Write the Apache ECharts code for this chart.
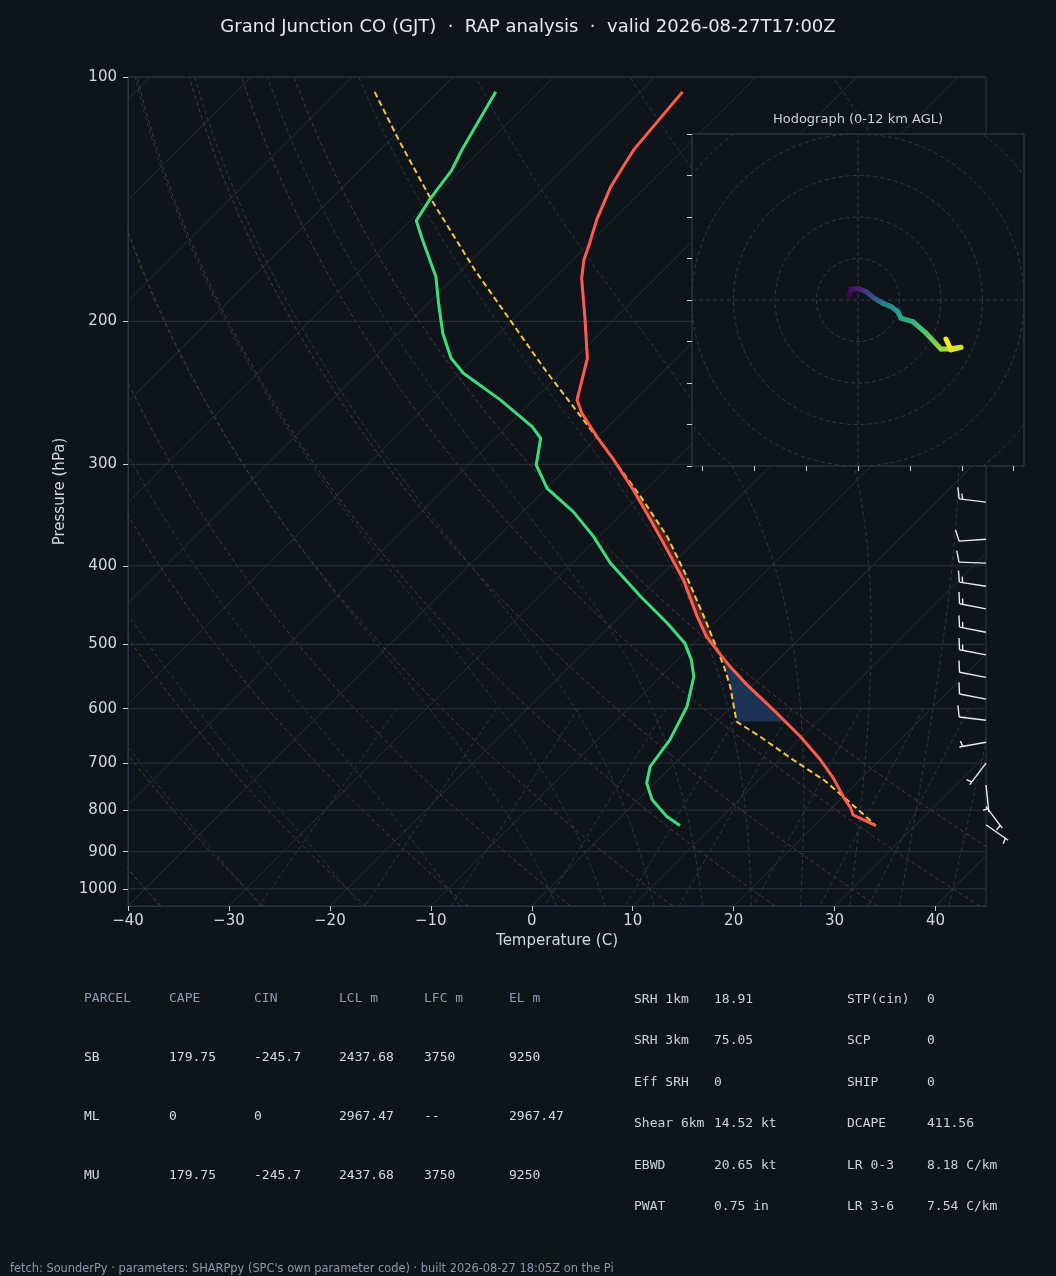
<!DOCTYPE html>
<html>
<head>
<meta charset="utf-8">
<title>GJT skew-T</title>
<script src="https://cdn.jsdelivr.net/npm/echarts@6.0.0/dist/echarts.min.js"></script>
<style>
  html, body { margin: 0; padding: 0; background: #0f141b; }
  #chart { width: 1056px; height: 1276px; }
</style>
</head>
<body>
<div id="chart"></div>
<script>
// ---- sounding (hPa, deg C) ----
var tempP = [104.3, 122.7, 127.7, 136.5, 150.0, 160.2, 168.0, 177.0, 198.3, 222.1, 249.9, 259.5, 277.3, 296.3, 322.6, 351.3, 382.4, 416.5, 462.1, 489.0, 515.0, 532.4, 560.8, 602.0, 649.3, 693.6, 730.6, 769.8, 795.6, 810.9, 835.7];
var tempC = [-65.8, -64.9, -64.4, -63.5, -61.6, -60.0, -58.9, -57.3, -53.0, -48.8, -45.7, -43.9, -40.1, -36.1, -31.2, -26.5, -21.9, -17.3, -12.3, -9.4, -6.2, -4.1, -0.6, 4.5, 9.8, 14.1, 17.2, 20.0, 21.9, 22.8, 26.1];

var dewP = [104.3, 123.0, 130.2, 141.1, 150.3, 157.3, 176.2, 190.0, 206.9, 222.1, 231.7, 249.9, 269.6, 278.6, 300.5, 321.1, 343.1, 368.3, 397.1, 436.5, 470.9, 498.2, 522.4, 547.7, 596.3, 655.4, 707.1, 741.0, 777.0, 814.7, 835.7];
var dewC = [-84.3, -81.9, -80.9, -80.2, -79.4, -77.3, -71.9, -69.0, -65.6, -62.3, -59.6, -53.3, -47.5, -45.5, -43.3, -39.9, -35.0, -30.5, -26.2, -19.9, -14.6, -10.9, -8.6, -6.7, -4.4, -2.8, -2.1, -0.8, 1.4, 4.5, 6.7];

// surface parcel trace
var parcelP = [104.3, 120.1, 141.1, 172.9, 228.9, 268.3, 296.3, 328.8, 368.3, 412.6, 470.9, 532.4, 563.5, 622.3, 649.3, 693.6, 734.1, 777.0, 835.7];
var parcelC = [-96.3, -88.9, -80.2, -68.7, -52.0, -42.2, -36.1, -29.8, -23.2, -17.3, -10.7, -4.7, -2.1, 2.0, 5.8, 11.4, 16.4, 20.7, 26.1];

// shaded areas (outline points)
var capeP = [524.8, 470.9, 412.6, 368.3, 328.8, 296.3, 322.6, 351.3, 382.4, 416.5, 462.1, 489.0, 515.0];
var capeC = [-5.2, -10.7, -17.3, -23.2, -29.8, -36.1, -31.2, -26.5, -21.9, -17.3, -12.3, -9.4, -6.2];
var cinP = [622.3, 563.5, 524.8, 532.4, 560.8, 602.0, 622.3];
var cinC = [2.0, -2.1, -5.2, -4.1, -0.6, 4.5, 6.8];

// wind barbs: pressure, speed (kt), direction (deg from)
var barbP = [334, 371, 397, 424, 452, 483, 515, 549, 584, 620, 660, 700, 745, 792, 834];
var barbSpd = [15, 10, 10, 15, 15, 15, 15, 10, 10, 10, 5, 5, 5, 5, 5];
var barbDir = [277, 266, 272, 279, 281, 281, 281, 281, 281, 277, 260, 217, 174, 143, 125];

// hodograph (kt) and height (km AGL)
var hodoU = [-1.1, -0.8, 0.0, 1.0, 2.0, 3.0, 4.0, 4.8, 5.2, 6.6, 8.2, 10.0, 11.0, 12.4, 11.2, 10.6];
var hodoV = [0.6, 1.3, 1.4, 1.0, 0.2, -0.4, -0.8, -1.4, -2.2, -2.6, -4.0, -5.9, -5.9, -5.7, -6.0, -4.7];
var hodoH = [0, 0.5, 1.0, 2.0, 3.2, 5.0, 6.0, 6.6, 7.0, 7.8, 8.8, 10.0, 10.6, 11.2, 11.6, 12.0];
var hodoRings = [5, 10, 15, 20, 25];

// axis ticks
var presTicks = [100, 200, 300, 400, 500, 600, 700, 800, 900, 1000];
var tempTicks = [-40, -30, -20, -10, 0, 10, 20, 30, 40];
var hodoXTicks = [-18.75, -12.5, -6.25, 0, 6.25, 12.5, 18.75];

// thermodynamic background
var isotherms = [-120, -110, -100, -90, -80, -70, -60, -50, -40, -30, -20, -10, 0, 10, 20, 30, 40];
var dryTheta = [-40, -30, -20, -10, 0, 10, 20, 30, 40, 50];
var moistT0 = [-40, -30, -20, -10, 0, 5, 10, 15, 20, 25, 30, 35, 40, 45];
var mixW = [0.0004, 0.001, 0.002, 0.004, 0.007, 0.01, 0.016, 0.024, 0.032];

// parameter tables
var parcelHead = ['PARCEL', 'CAPE', 'CIN', 'LCL m', 'LFC m', 'EL m'];
var parcelRows = [
  ['SB', '179.75', '-245.7', '2437.68', '3750', '9250'],
  ['ML', '0', '0', '2967.47', '--', '2967.47'],
  ['MU', '179.75', '-245.7', '2437.68', '3750', '9250']
];
var paramA = [['SRH 1km', '18.91'], ['SRH 3km', '75.05'], ['Eff SRH', '0'], ['Shear 6km', '14.52 kt'], ['EBWD', '20.65 kt'], ['PWAT', '0.75 in']];
var paramB = [['STP(cin)', '0'], ['SCP', '0'], ['SHIP', '0'], ['DCAPE', '411.56'], ['LR 0-3', '8.18 C/km'], ['LR 3-6', '7.54 C/km']];

var BG = '#0f141b';
var PBOT = 1050, PTOP = 100;
var SKEW = 80.5;   // deg C of shift per decade of pressure

function lp(p) { return Math.log10(p); }
function skx(t, p) { return t + SKEW * (lp(PBOT) - lp(p)); }
function prof(P, T) {
  var out = [];
  for (var i = 0; i < P.length; i++) out.push([skx(T[i], P[i]), lp(P[i])]);
  return out;
}

// moist adiabat integration
function satMix(p, tk) {
  var tc = tk - 273.15;
  var es = 6.112 * Math.exp(17.67 * tc / (tc + 243.5));
  return 0.622 * es / (p - es);
}
function dTdp(p, tk) {
  var rs = satMix(p, tk);
  var Rd = 287.04749, Lv = 2.50084e6, Cp = 1004.6662, eps = 0.622;
  return ((Rd * tk + Lv * rs) / (Cp + Lv * Lv * rs * eps / (Rd * tk * tk))) / p;
}
function rk4(p, t, h) {
  var k1 = dTdp(p, t);
  var k2 = dTdp(p + h / 2, t + h / 2 * k1);
  var k3 = dTdp(p + h / 2, t + h / 2 * k2);
  var k4 = dTdp(p + h, t + h * k3);
  return t + h / 6 * (k1 + 2 * k2 + 2 * k3 + k4);
}
function moistCurve(t0) {
  var tk = t0 + 273.15, p = 1000, t = tk, low = [];
  while (p < PBOT) { t = rk4(p, t, 10); p += 10; low.push([p, t]); }
  var pts = low.reverse().concat([[1000, tk]]);
  p = 1000; t = tk;
  while (p > PTOP) { t = rk4(p, t, -10); p -= 10; pts.push([p, t]); }
  return pts.map(function (d) { return [skx(d[1] - 273.15, d[0]), lp(d[0])]; });
}
function dryCurve(th) {
  var out = [];
  for (var p = PBOT; p >= PTOP; p -= 10) {
    var t = (th + 273.15) * Math.pow(p / 1000, 0.2857) - 273.15;
    out.push([skx(t, p), lp(p)]);
  }
  return out;
}
function mixCurve(w) {
  var out = [];
  for (var p = 600; p <= PBOT; p += 25) {
    var e = p * w / (0.622 + w), a = Math.log(e / 6.112);
    var td = 243.5 * a / (17.67 - a);
    out.push([skx(td, p), lp(p)]);
  }
  return out;
}

var viridis = ['#440154', '#482878', '#3e4989', '#31688e', '#26828e', '#1f9e89', '#35b779', '#6ece58', '#b5de2b', '#fde725'];
function vColor(f) {
  f = Math.max(0, Math.min(1, f));
  var s = f * (viridis.length - 1), i = Math.min(Math.floor(s), viridis.length - 2), r = s - i;
  function h(c, k) { return parseInt(c.substr(1 + 2 * k, 2), 16); }
  var a = viridis[i], b = viridis[i + 1], out = [];
  for (var k = 0; k < 3; k++) out.push(Math.round(h(a, k) + (h(b, k) - h(a, k)) * r));
  return 'rgb(' + out.join(',') + ')';
}

var series = [];
function addBg(data, color, dash) {
  series.push({
    type: 'line', xAxisIndex: 0, yAxisIndex: 0, data: data, symbol: 'none', silent: true,
    clip: true, z: 1, animation: false,
    lineStyle: { color: color, width: 1, type: dash || 'solid' }
  });
}

presTicks.forEach(function (p) { addBg([[-40, lp(p)], [45, lp(p)]], '#283039'); });
isotherms.forEach(function (t) { addBg([[skx(t, PBOT), lp(PBOT)], [skx(t, PTOP), lp(PTOP)]], '#262e38'); });
dryTheta.forEach(function (th) { addBg(dryCurve(th), '#4a3d2e', [4, 3]); });
moistT0.forEach(function (t0) { addBg(moistCurve(t0), '#2a3946', [4, 3]); });
mixW.forEach(function (w) { addBg(mixCurve(w), '#2a3946', [4, 3]); });

function fillSeries(P, T, color) {
  return {
    type: 'custom', xAxisIndex: 0, yAxisIndex: 0, silent: true, z: 3, animation: false,
    data: [[skx(T[0], P[0]), lp(P[0])]],
    renderItem: function (params, api) {
      var pts = P.map(function (p, i) { return api.coord([skx(T[i], p), lp(p)]); });
      return { type: 'polygon', shape: { points: pts }, style: { fill: color } };
    }
  };
}
series.push(fillSeries(capeP, capeC, '#4a2a23'));
series.push(fillSeries(cinP, cinC, '#1d3355'));

series.push({
  type: 'line', name: 'Parcel', data: prof(parcelP, parcelC), symbol: 'none', z: 5, clip: true, animation: false,
  lineStyle: { color: '#f5c542', width: 2, type: [6, 3.5] }
});
series.push({
  type: 'line', name: 'Dewpoint', data: prof(dewP, dewC), symbol: 'none', z: 6, clip: true, animation: false,
  lineStyle: { color: '#3ddc7e', width: 3 }
});
series.push({
  type: 'line', name: 'Temperature', data: prof(tempP, tempC), symbol: 'none', z: 7, clip: true, animation: false,
  lineStyle: { color: '#ff5a4c', width: 3 }
});

// wind barbs along the right edge
series.push({
  type: 'custom', xAxisIndex: 0, yAxisIndex: 0, silent: true, z: 6, animation: false,
  data: barbP.map(function (p) { return [45, lp(p)]; }),
  renderItem: function (params, api) {
    var i = params.dataIndex;
    var base = api.coord([45, lp(barbP[i])]);
    var L = 27, d = barbDir[i] * Math.PI / 180;
    var ux = Math.sin(d), uy = -Math.cos(d), px = -uy, py = ux;
    var ex = base[0] + L * ux, ey = base[1] + L * uy;
    var st = { stroke: '#e8ebef', lineWidth: 1.4 };
    var kids = [{ type: 'line', shape: { x1: base[0], y1: base[1], x2: ex, y2: ey }, style: st }];
    var spd = barbSpd[i], sp = 0.125 * L, off = 0;
    var full = Math.floor(spd / 10), half = (spd % 10) >= 5;
    if (full === 0 && half) off = sp;
    for (var k = 0; k < full; k++) {
      var sx = ex - off * ux, sy = ey - off * uy;
      kids.push({ type: 'line', shape: { x1: sx, y1: sy, x2: sx + 0.42 * L * px + 0.1 * L * ux, y2: sy + 0.42 * L * py + 0.1 * L * uy }, style: st });
      off += sp;
    }
    if (half) {
      var hx = ex - off * ux, hy = ey - off * uy;
      kids.push({ type: 'line', shape: { x1: hx, y1: hy, x2: hx + 0.21 * L * px + 0.05 * L * ux, y2: hy + 0.21 * L * py + 0.05 * L * uy }, style: st });
    }
    return { type: 'group', children: kids };
  }
});

// hodograph
series.push({
  type: 'custom', xAxisIndex: 1, yAxisIndex: 1, silent: true, z: 12, animation: false,
  data: hodoRings.map(function (r) { return [r, 0]; }),
  renderItem: function (params, api) {
    var c = api.coord([0, 0]), r = api.size([hodoRings[params.dataIndex], 0])[0], cs = params.coordSys;
    return {
      type: 'circle', shape: { cx: c[0], cy: c[1], r: r },
      style: { fill: 'none', stroke: '#2e3a48', lineWidth: 1, lineDash: [4, 3] },
      clipPath: { type: 'rect', shape: { x: cs.x, y: cs.y, width: cs.width, height: cs.height } }
    };
  }
});
[[[-20, 0], [20, 0]], [[0, -20], [0, 20]]].forEach(function (seg) {
  series.push({
    type: 'line', xAxisIndex: 1, yAxisIndex: 1, data: seg, symbol: 'none', silent: true, z: 12, animation: false,
    lineStyle: { color: '#2e3a48', width: 1, type: [4, 3] }
  });
});
series.push({
  type: 'custom', xAxisIndex: 1, yAxisIndex: 1, silent: true, z: 13, animation: false,
  data: hodoU.map(function (u, i) { return [u, hodoV[i], hodoH[i]]; }),
  renderItem: function (params, api) {
    var i = params.dataIndex;
    if (i >= hodoU.length - 1) return null;
    var a = api.coord([hodoU[i], hodoV[i]]), b = api.coord([hodoU[i + 1], hodoV[i + 1]]);
    return {
      type: 'line', shape: { x1: a[0], y1: a[1], x2: b[0], y2: b[1] },
      style: {
        lineWidth: 5, lineCap: 'round',
        stroke: {
          type: 'linear', global: true, x: a[0], y: a[1], x2: b[0], y2: b[1],
          colorStops: [{ offset: 0, color: vColor(hodoH[i] / 12) }, { offset: 1, color: vColor(hodoH[i + 1] / 12) }]
        }
      }
    };
  }
});

// texts
var graphics = [];
function txt(x, y, s, color, font, align) {
  graphics.push({
    type: 'text', z: 100, silent: true,
    style: { text: s, x: x, y: y, fill: color, font: font, textAlign: align || 'left', align: align || 'left', textVerticalAlign: 'middle', verticalAlign: 'middle' }
  });
}
var SANS = '"DejaVu Sans", sans-serif', MONO = '"DejaVu Sans Mono", monospace';
txt(528, 27, 'Grand Junction CO (GJT)  \u00b7  RAP analysis  \u00b7  valid 2026-08-27T17:00Z', '#e6e9ee', '18px ' + SANS, 'center');
txt(858, 120, 'Hodograph (0-12 km AGL)', '#c9cfd8', '13px ' + SANS, 'center');

var colX = [84, 169, 254, 339, 424, 509], rowY = [999, 1058, 1117, 1176];
parcelHead.forEach(function (h, j) { txt(colX[j], rowY[0], h, '#8b9bb1', '13px ' + MONO); });
parcelRows.forEach(function (row, r) {
  row.forEach(function (v, j) { txt(colX[j], rowY[r + 1], v, '#d5dae1', '13px ' + MONO); });
});
var pRowY = [1000, 1041, 1083, 1124, 1166, 1207];
paramA.forEach(function (d, r) { txt(634, pRowY[r], d[0], '#cdd2d9', '13px ' + MONO); txt(714, pRowY[r], d[1], '#cdd2d9', '13px ' + MONO); });
paramB.forEach(function (d, r) { txt(847, pRowY[r], d[0], '#cdd2d9', '13px ' + MONO); txt(927, pRowY[r], d[1], '#cdd2d9', '13px ' + MONO); });
txt(10, 1269, "fetch: SounderPy \u00b7 parameters: SHARPpy (SPC's own parameter code) \u00b7 built 2026-08-27 18:05Z on the Pi", '#8a99ad', '11.4px ' + SANS);

var tickColor = '#c9cfd8', frame = '#2b3544', labelColor = '#d3d8df';
var option = {
  backgroundColor: BG,
  animation: false,
  textStyle: { fontFamily: 'DejaVu Sans' },
  grid: [
    { left: 128, top: 77, width: 858, height: 829, show: true, borderColor: frame, borderWidth: 1, backgroundColor: 'transparent', containLabel: false, outerBoundsMode: 'none' },
    { left: 692, top: 134, width: 332, height: 332, show: true, borderColor: '#34404e', borderWidth: 1, backgroundColor: BG, z: 10, containLabel: false, outerBoundsMode: 'none' }
  ],
  xAxis: [
    {
      type: 'value', gridIndex: 0, min: -40, max: 45, interval: 10, position: 'bottom',
      name: 'Temperature (C)', nameLocation: 'middle', nameGap: 28,
      nameTextStyle: { color: labelColor, fontSize: 15, fontFamily: 'DejaVu Sans' },
      axisLine: { show: true, onZero: false, lineStyle: { color: frame } },
      axisTick: { show: true, length: 5, customValues: tempTicks, lineStyle: { color: tickColor } },
      axisLabel: {
        show: true, customValues: tempTicks, margin: 8, color: labelColor, fontSize: 15, fontFamily: 'DejaVu Sans',
        formatter: function (v) { return v < 0 ? '\u2212' + Math.abs(v) : String(v); }
      },
      splitLine: { show: false }
    },
    {
      type: 'value', gridIndex: 1, min: -20, max: 20, z: 11, position: 'bottom',
      axisLine: { show: false, onZero: false },
      axisTick: { show: true, length: 5, customValues: hodoXTicks, lineStyle: { color: tickColor } },
      axisLabel: { show: false },
      splitLine: { show: false }
    }
  ],
  yAxis: [
    {
      type: 'value', gridIndex: 0, min: lp(PTOP), max: lp(PBOT), inverse: true, position: 'left',
      name: 'Pressure (hPa)', nameLocation: 'middle', nameGap: 57, nameRotate: 90,
      nameTextStyle: { color: labelColor, fontSize: 15, fontFamily: 'DejaVu Sans' },
      axisLine: { show: true, onZero: false, lineStyle: { color: frame } },
      axisTick: { show: true, length: 5, customValues: presTicks.map(lp), lineStyle: { color: tickColor } },
      axisLabel: {
        show: true, customValues: presTicks.map(lp), margin: 11, color: labelColor, fontSize: 15, fontFamily: 'DejaVu Sans',
        formatter: function (v) { return String(Math.round(Math.pow(10, v))); }
      },
      splitLine: { show: false }
    },
    {
      type: 'value', gridIndex: 1, min: -20, max: 20, interval: 5, z: 11, position: 'left',
      axisLine: { show: false, onZero: false },
      axisTick: { show: true, length: 5, lineStyle: { color: tickColor } },
      axisLabel: { show: false },
      splitLine: { show: false }
    }
  ],
  series: series,
  graphic: graphics
};

var chart = echarts.init(document.getElementById('chart'), null, { renderer: 'canvas' });
chart.setOption(option);
</script>
</body>
</html>
